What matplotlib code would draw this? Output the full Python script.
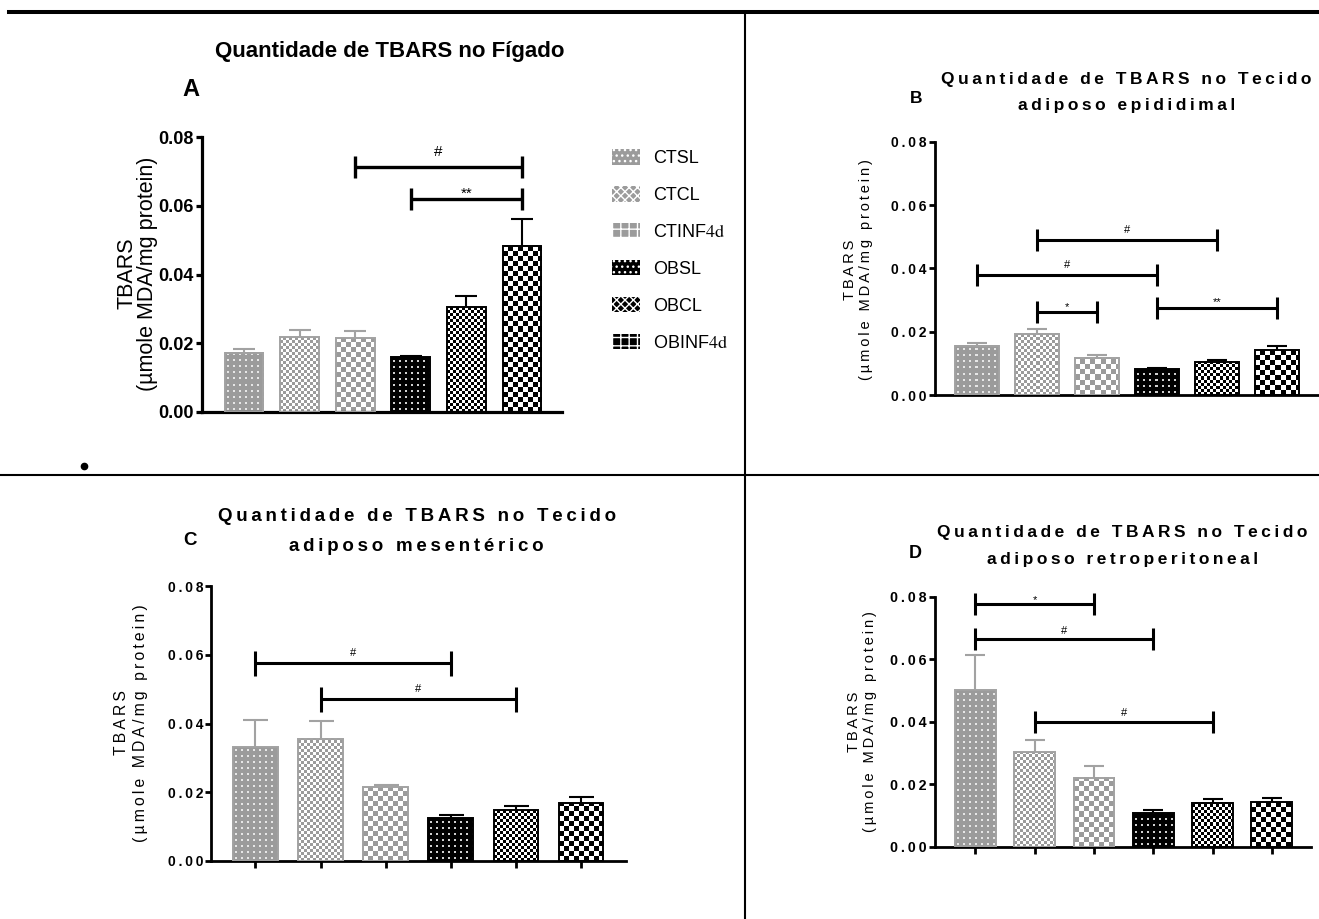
import numpy as np
import matplotlib
matplotlib.use("Agg")
import matplotlib.pyplot as plt
from matplotlib.lines import Line2D
from matplotlib.patches import Patch
from matplotlib.colors import to_rgb

plt.rcParams['font.family'] = ['Liberation Sans', 'DejaVu Sans']
plt.rcParams['mathtext.fontset'] = 'stix'
plt.rcParams['hatch.linewidth'] = 1.0

W, H, DPI = 1319, 919, 100

# ---------------- data ----------------
groups = ["CTSL", "CTCL", "CTINF4d", "OBSL", "OBCL", "OBINF4d"]
legend_labels = ["CTSL", "CTCL", r"CTINF$\mathrm{4d}$",
                 "OBSL", "OBCL", r"OBINF$\mathrm{4d}$"]
yticks = [0.00, 0.02, 0.04, 0.06, 0.08]

# A - liver
liver_mean = [0.0172, 0.0218, 0.0214, 0.0159, 0.0305, 0.0484]
liver_sem = [0.0011, 0.0022, 0.0023, 0.0003, 0.0032, 0.0077]
liver_sig = [(2, 5, 0.0714, "#"), (3, 5, 0.0620, "**")]

# B - epididymal adipose tissue
epid_mean = [0.0156, 0.0193, 0.0118, 0.0082, 0.0105, 0.0142]
epid_sem = [0.0009, 0.0017, 0.0009, 0.0004, 0.0007, 0.0014]
epid_sig = [(1, 4, 0.0489, "#"), (0, 3, 0.0379, "#"),
            (1, 2, 0.0263, "*"), (3, 5, 0.0274, "**")]

# C - mesenteric adipose tissue
mes_mean = [0.0331, 0.0355, 0.0214, 0.0124, 0.0148, 0.0168]
mes_sem = [0.0079, 0.0052, 0.0007, 0.0010, 0.0013, 0.0017]
mes_sig = [(0, 3, 0.0577, "#"), (1, 4, 0.0471, "#")]

# D - retroperitoneal adipose tissue
retro_mean = [0.0501, 0.0304, 0.0221, 0.0107, 0.0141, 0.0144]
retro_sem = [0.0111, 0.0037, 0.0037, 0.0010, 0.0012, 0.0013]
retro_sig = [(0, 2, 0.0776, "*"), (0, 3, 0.0664, "#"), (1, 4, 0.0400, "#")]

# ---------------- styling ----------------
GRAY = "#9b9b9b"
EDGE_GRAY = "#a2a2a2"
BLACK = "#000000"
fills = [GRAY] * 3 + [BLACK] * 3
edges = [EDGE_GRAY] * 3 + [BLACK] * 3
patterns = ["dots", "fine", "coarse"] * 2
dot_colors = ["#e6e6e6"] * 3 + ["#cfcfcf"] * 3

fig = plt.figure(figsize=(W / DPI, H / DPI), dpi=DPI)


def fx(x):
    return x / W


def fy(y):
    return 1 - y / H


def spaced(s):
    # letter-spaced setting used by the adipose-tissue panels
    return "\u2009".join(s)


def pattern_image(kind, ny, nx, fg, bg):
    i, j = np.mgrid[0:ny, 0:nx]
    if kind == "dots":
        mask = ((i % 6) // 2 == 1) & ((j % 6) // 2 == 1)
    elif kind == "fine":
        mask = ((i // 3 + j // 3) % 2) == 0
    else:
        mask = ((i // 5 + j // 5) % 2) == 0
    img = np.empty((ny, nx, 3))
    img[:] = to_rgb(bg)
    img[mask] = to_rgb(fg)
    return img


def panel(geom, means, sems, sig, spaced_text, tick_fs, spine_lw, capsize,
          sig_fs, sig_ms, sig_lw, sig_off, xticks):
    spine_x, right_x, y0, ytop, c0, step, bw = geom
    ax = fig.add_axes([fx(spine_x), fy(y0), (right_x - spine_x) / W, (y0 - ytop) / H])
    px_x = step
    px_y = (y0 - ytop) / 0.08
    x = np.arange(len(groups))
    bars = ax.bar(x, means, width=bw, facecolor="none", edgecolor=edges,
                  linewidth=1.4, zorder=3)
    for k, b in enumerate(bars):
        nx = max(1, int(round(b.get_width() * px_x)))
        ny = max(1, int(round(b.get_height() * px_y)))
        fg = dot_colors[k] if patterns[k] == "dots" else "#ffffff"
        img = pattern_image(patterns[k], ny, nx, fg, fills[k])
        ax.imshow(img, extent=(b.get_x(), b.get_x() + b.get_width(), 0, b.get_height()),
                  origin="lower", interpolation="nearest", aspect="auto",
                  zorder=2, clip_path=b)
    for k in range(len(groups)):
        eb = ax.errorbar(x[k], means[k], yerr=[[0], [sems[k]]], fmt="none",
                         ecolor=edges[k], elinewidth=1.5, capsize=capsize,
                         capthick=1.5, zorder=4)
        eb[1][0].set_visible(False)
    for (i, j, y, label) in sig:
        ax.plot([i, j], [y, y], color="k", lw=sig_lw, solid_capstyle="butt",
                zorder=5, clip_on=False)
        ax.plot([i, j], [y, y], ls="none", marker="|", ms=sig_ms, mew=sig_lw,
                color="k", zorder=5, clip_on=False)
        ax.annotate(label, xy=((i + j) / 2, y), xytext=(0, sig_off[label]),
                    textcoords="offset points", ha="center", va="baseline",
                    fontsize=sig_fs)
    ax.set_xlim((spine_x - c0) / step, (right_x - c0) / step)
    ax.set_ylim(0, 0.08)
    for s in ("top", "right"):
        ax.spines[s].set_visible(False)
    for s in ("left", "bottom"):
        ax.spines[s].set_linewidth(spine_lw)
    ax.set_yticks(yticks)
    labels = [f"{v:.2f}" for v in yticks]
    if spaced_text:
        labels = [spaced(t) for t in labels]
    ax.set_yticklabels(labels, fontsize=tick_fs, fontweight="bold")
    ax.tick_params(axis="y", direction="out", length=4, width=spine_lw, pad=2)
    if xticks:
        ax.set_xticks(x)
        ax.set_xticklabels([])
        ax.tick_params(axis="x", direction="out", length=5, width=spine_lw)
    else:
        ax.set_xticks([])
    return ax


# ---------------- panels ----------------
axA = panel((202, 562, 412, 137, 244, 55.6, 0.70), liver_mean, liver_sem, liver_sig,
            False, 13, 2.3, 8, 11, 16.5, 2.4, {"#": 7.5, "**": 1.0}, False)
axB = panel((935, 1318, 395, 141.7, 977, 60.0, 0.72), epid_mean, epid_sem, epid_sig,
            True, 10, 2.0, 7, 8, 16, 2.2, {"#": 5.0, "*": 1.0, "**": 2.0}, False)
axC = panel((211.4, 625.7, 861, 586, 255.4, 65.1, 0.685), mes_mean, mes_sem, mes_sig,
            True, 10, 2.0, 9, 8, 18, 2.2, {"#": 5.0}, True)
axD = panel((935, 1311, 846.7, 596.7, 975.4, 59.3, 0.69), retro_mean, retro_sem, retro_sig,
            True, 10.3, 2.0, 7, 8, 16, 2.2, {"#": 4.0, "*": 1.0}, True)

# ---------------- titles, letters, axis labels ----------------
fig.text(fx(389.5), fy(56.5), "Quantidade de TBARS no Fígado", ha="center",
         va="baseline", fontsize=16, fontweight="bold")
fig.text(fx(191), fy(96.5), "A", ha="center", va="baseline", fontsize=17, fontweight="bold")
fig.text(fx(137), fy(273.5), "TBARS\n(µmole MDA/mg protein)", rotation=90,
         ha="center", va="center", multialignment="center", fontsize=15.5, linespacing=0.95)

fig.text(fx(1126), fy(84), spaced("Quantidade de TBARS no Tecido"), ha="center",
         va="baseline", fontsize=12.5, fontweight="bold")
fig.text(fx(1127), fy(110), spaced("adiposo epididimal"), ha="center",
         va="baseline", fontsize=12.5, fontweight="bold")
fig.text(fx(916), fy(103.3), "B", ha="center", va="baseline", fontsize=12.5, fontweight="bold")
fig.text(fx(858), fy(270), spaced("TBARS") + "\n" + spaced("(µmole MDA/mg protein)"),
         rotation=90, ha="center", va="center", multialignment="center",
         fontsize=10.5, linespacing=1.15)

fig.text(fx(416.8), fy(520.7), spaced("Quantidade de TBARS no Tecido"), ha="center",
         va="baseline", fontsize=13.5, fontweight="bold")
fig.text(fx(416), fy(550.7), spaced("adiposo mesentérico"), ha="center",
         va="baseline", fontsize=13.5, fontweight="bold")
fig.text(fx(190), fy(545), "C", ha="center", va="baseline", fontsize=13.5, fontweight="bold")
fig.text(fx(131), fy(723), spaced("TBARS") + "\n" + spaced("(µmole MDA/mg protein)"),
         rotation=90, ha="center", va="center", multialignment="center",
         fontsize=11.3, linespacing=1.3)

fig.text(fx(1122.5), fy(537.3), spaced("Quantidade de TBARS no Tecido"), ha="center",
         va="baseline", fontsize=12.5, fontweight="bold")
fig.text(fx(1122.5), fy(564), spaced("adiposo retroperitoneal"), ha="center",
         va="baseline", fontsize=12.5, fontweight="bold")
fig.text(fx(915), fy(558.3), "D", ha="center", va="baseline", fontsize=13, fontweight="bold")
fig.text(fx(862), fy(722), spaced("TBARS") + "\n" + spaced("(µmole MDA/mg protein)"),
         rotation=90, ha="center", va="center", multialignment="center",
         fontsize=10.5, linespacing=1.25)

# ---------------- legend ----------------
legend_hatches = ["...", "xxxx", "++"] * 2
handles = [Patch(facecolor=fills[k], edgecolor="white", linewidth=0, hatch=legend_hatches[k])
           for k in range(len(groups))]
fig.legend(handles, legend_labels, loc="upper left", bbox_to_anchor=(fx(612), fy(149)),
           frameon=False, fontsize=13, handlelength=1.55, handleheight=0.95,
           handletextpad=0.7, labelspacing=1.05, borderpad=0, borderaxespad=0)

# ---------------- page rules ----------------
fig.add_artist(Line2D([fx(9), fx(1319)], [fy(12), fy(12)], color="k", lw=2.9,
                      transform=fig.transFigure))
fig.add_artist(Line2D([fx(745), fx(745)], [fy(12), fy(919)], color="k", lw=1.5,
                      transform=fig.transFigure))
fig.add_artist(Line2D([fx(0), fx(1319)], [fy(475), fy(475)], color="k", lw=1.5,
                      transform=fig.transFigure))
fig.add_artist(Line2D([fx(84)], [fy(466)], marker="o", ms=4.5, color="k", ls="none",
                      transform=fig.transFigure))

fig.savefig("out.png", dpi=DPI)
